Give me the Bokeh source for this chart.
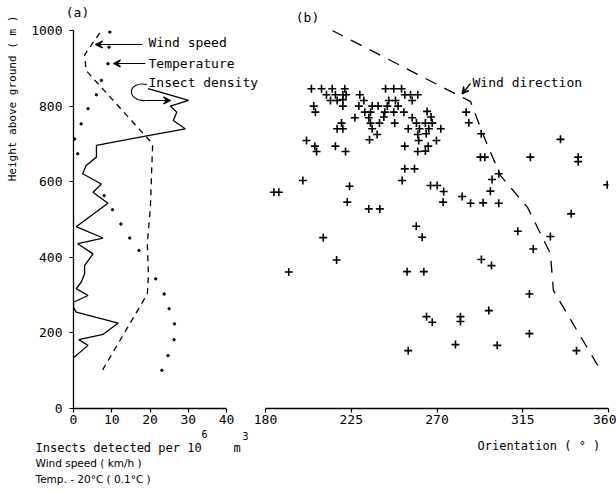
import math
from bokeh.plotting import figure
from bokeh.layouts import row, column
from bokeh.models import Range1d, FixedTicker, Label, Arrow, VeeHead
from bokeh.embed import file_html
from bokeh.resources import INLINE

FONT = "DejaVu Sans Mono"

# ---------------- data (a) ----------------
insect_height = [134, 167, 182, 196, 226, 255, 268, 281, 299, 317, 334, 356, 378, 409, 436, 451,
                 481, 543, 572, 594, 621, 643, 665, 696, 718, 740, 762, 784, 800, 815, 846]
insect_density = [0, 3.8, 1.4, 7.7, 11.7, 0.7, 0, 0, 3.8, 0.7, 2.0, 2.9, 2.9, 5.1, 1.1, 7.7,
                  0.7, 9.0, 5.1, 7.3, 2.4, 3.3, 6.0, 6.0, 17.4, 29.2, 26.1, 27.0, 25.3, 30.1, 19.5]

wind_height = [102, 303, 352, 436, 532, 621, 700, 894, 935, 965, 1000]
wind_speed = [7.6, 19.3, 19.6, 19.3, 20.1, 20.4, 20.7, 3.3, 2.9, 4.9, 7.3]

temp_height = [101, 140, 182, 224, 264, 303, 343, 418, 451, 488, 526, 563, 674, 713, 753, 793,
               830, 868, 912, 956, 996]
temp_value = [23.1, 24.7, 26.3, 26.4, 25.0, 23.7, 21.5, 17.1, 14.7, 12.4, 10.2, 8.0, 1.1, 0.3,
              2.0, 3.8, 6.0, 7.3, 9.0, 9.3, 9.5]

# ---------------- data (b) ----------------
dir_height = [1000, 812, 722, 616, 532, 410, 312, 93]
dir_deg = [215, 287.6, 294.4, 303.3, 317.5, 329.5, 331.1, 356.8]

orientation = [
    204.1, 209.4, 215.0, 221.6, 243.0, 247.3, 251.4,
    212.0, 216.7, 220.6, 222.3, 229.5, 253.1, 256.1, 259.9,
    214.1, 217.6, 220.6, 231.6, 244.7, 248.2, 257.0,
    205.3, 220.6, 229.0, 236.0, 239.1, 243.9, 249.6,
    206.2, 232.1, 235.1, 242.6, 247.3, 252.6, 264.8,
    226.9, 234.2, 242.1, 257.0, 266.9,
    219.9, 235.1, 239.8, 247.8, 259.2, 263.9, 267.5,
    217.6, 220.6, 236.0, 254.9, 260.8, 265.7, 272.0,
    238.6, 259.9, 264.3,
    201.5, 234.6, 260.4, 269.7,
    205.9, 216.7, 253.1, 265.4,
    206.8, 222.0, 259.9, 263.9,
    253.1, 258.2,
    285.3, 286.7, 293.2, 292.8, 295.1, 319.0, 334.8, 344.1, 344.1, 302.4, 298.9, 359.3,
    298.0, 283.2, 287.6, 294.2, 302.4, 340.4, 312.4, 329.5, 320.5, 293.3, 298.6, 318.5,
    297.2, 282.3, 282.3, 318.5, 279.7, 301.6, 343.2,
    199.6, 184.4, 187.0, 224.1, 251.7, 266.6, 270.1, 273.5, 222.9, 234.2, 240.0, 273.2,
    210.3, 259.1, 262.2, 192.2, 217.3, 254.3, 263.1, 264.5, 267.5, 254.9,
]
orient_height = (
    [846] * 7 + [830] * 8 + [815, 815, 817, 815, 815, 815, 815] + [800] * 7
    + [784] * 6 + [786] + [769, 769, 771, 769, 771] + [755] * 7 + [740] * 7
    + [725, 725, 727] + [709, 711, 709, 709] + [694] * 4 + [680, 680, 680, 681] + [634, 634]
    + [784, 756, 727, 665, 665, 665, 712, 665, 653, 621, 606, 592,
       575, 561, 543, 544, 543, 515, 469, 455, 422, 394, 378, 303,
       259, 243, 230, 198, 169, 167, 153]
    + [603, 572, 572, 588, 603, 590, 590, 574, 546, 528, 528, 546,
       452, 482, 453, 361, 393, 362, 362, 243, 228, 153]
)

height_ticks = [0, 200, 400, 600, 800, 1000]
left_ticks = [0, 10, 20, 30, 40]
right_ticks = [180, 225, 270, 315, 360]

W, H = 616, 490


def style_axis(ax, ticks):
    ax.ticker = FixedTicker(ticks=ticks)
    ax.axis_line_width = 1.3
    ax.axis_line_color = "black"
    ax.major_tick_line_color = "black"
    ax.major_tick_line_width = 1.2
    ax.major_tick_out = 4
    ax.major_tick_in = 0
    ax.minor_tick_line_color = None
    ax.major_label_text_font = FONT
    ax.major_label_text_font_size = "13px"
    ax.major_label_text_color = "black"


# ---------------- panel (a) ----------------
left = figure(frame_width=153, frame_height=378, min_border_left=73, min_border_right=24,
              min_border_top=30, min_border_bottom=82,
              x_range=Range1d(0, 40), y_range=Range1d(0, 1000),
              output_backend="svg", toolbar_location=None)
left.outline_line_color = None
left.grid.visible = False
style_axis(left.yaxis[0], height_ticks)
style_axis(left.xaxis[0], left_ticks)
left.yaxis[0].major_label_standoff = 7
left.xaxis[0].major_label_standoff = 2

left.line(insect_density, insect_height, line_color="black", line_width=1.3)
left.line(wind_speed, wind_height, line_color="black", line_width=1.3, line_dash="6 5")
left.scatter(temp_value, temp_height, marker="circle", size=2.4, color="black")

# ---------------- panel (b) ----------------
right = figure(frame_width=343, frame_height=378, min_border_left=15, min_border_right=8,
               min_border_top=30, min_border_bottom=82, y_axis_location=None,
               x_range=Range1d(180, 360), y_range=left.y_range,
               output_backend="svg", toolbar_location=None)
right.outline_line_color = None
right.grid.visible = False
style_axis(right.xaxis[0], right_ticks)
right.xaxis[0].major_label_standoff = 2

right.line(dir_deg, dir_height, line_color="black", line_width=1.3, line_dash="12 9")
right.scatter(orientation, orient_height, marker="cross", size=8, line_width=1.6, color="black")

# ---------------- annotation layer (canvas pixel coordinates, y downwards) ----------------
ov = figure(width=W, height=H, min_border=0, x_range=Range1d(0, W), y_range=Range1d(H, 0),
            x_axis_location=None, y_axis_location=None,
            output_backend="svg", toolbar_location=None)
ov.outline_line_color = None
ov.grid.visible = False
ov.background_fill_color = None
ov.border_fill_color = None
ov.margin = (-H, 0, 0, 0)


def lab(x, y, text, size="13px", align="left", font=FONT, **kw):
    ov.add_layout(Label(x=x, y=y, text=text, text_font=font, text_font_size=size,
                        text_color="black", text_baseline="middle", text_align=align, **kw))


def arrow(x0, y0, x1, y1):
    ov.add_layout(Arrow(x_start=x0, y_start=y0, x_end=x1, y_end=y1, line_width=1.2,
                        line_color="black",
                        end=VeeHead(size=7, line_width=1.2, line_color="black")))


lab(77, 12, "(a)", align="center")
lab(307, 17, "(b)", align="center")
lab(148, 42, "Wind speed")
arrow(142, 44, 95, 44)
lab(148, 63, "Temperature")
arrow(145, 63, 113, 63)
lab(148, 82, "Insect density")
ov.bezier(x0=[146.5], y0=[84], x1=[145], y1=[100], cx0=[126], cy0=[80], cx1=[126], cy1=[101],
          line_color="black", line_width=1.2)
arrow(145, 100, 170, 100)
lab(472, 82, "Wind direction")
arrow(470, 83, 461.5, 93.5)

lab(12, 98, "Height above ground ( m )", size="11px", align="center", angle=math.pi / 2)
lab(35, 447, "Insects detected per 10", size="12px")
lab(201, 433, "6", size="10px")
lab(233, 447, "m", size="12px")
lab(242, 435, "3", size="10px")
lab(35, 462, "Wind speed ( km/h )", size="10.5px", font="DejaVu Sans")
lab(35, 478, "Temp. - 20\u00b0C ( 0.1\u00b0C )", size="10.5px", font="DejaVu Sans")
lab(477, 445, "Orientation ( \u00b0 )", size="12px")

layout = column(row(left, right), ov)
open("out.html", "w").write(file_html(layout, INLINE))
